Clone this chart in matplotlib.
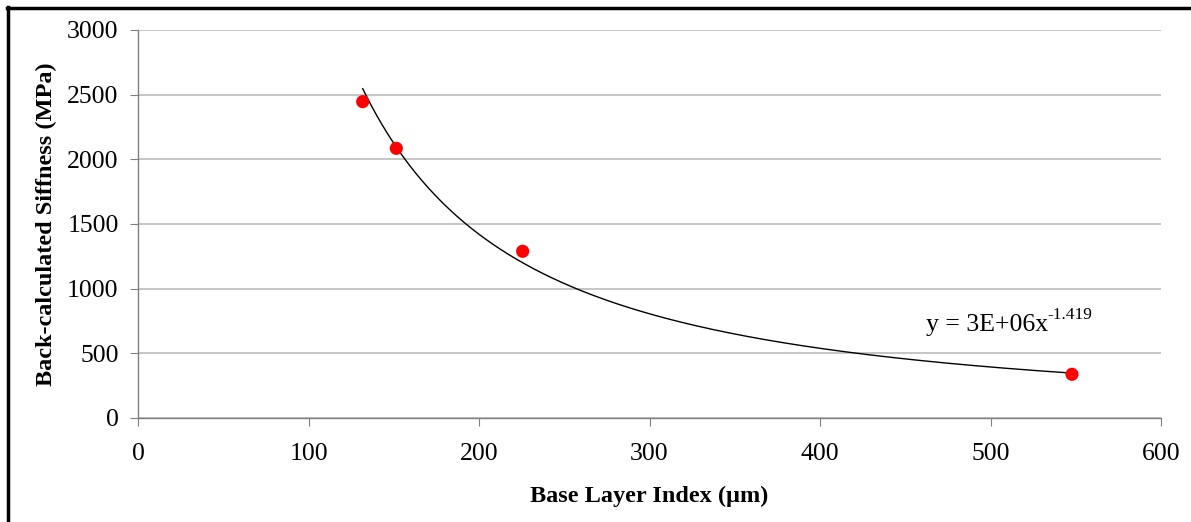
import numpy as np
import matplotlib
matplotlib.use('Agg')
import matplotlib.pyplot as plt
from matplotlib.lines import Line2D
from matplotlib.transforms import offset_copy

# data
base_index = [131.8, 151.5, 225.6, 547.8]
stiffness = [2446, 2085, 1289, 338]

x_ticks = [0, 100, 200, 300, 400, 500, 600]
y_ticks = [0, 500, 1000, 1500, 2000, 2500, 3000]

plt.rcParams['font.family'] = ['Liberation Serif', 'DejaVu Serif']

fig = plt.figure(figsize=(11.91, 5.22), dpi=100)
ax = fig.add_axes([138 / 1191, 1 - 418 / 522, 1023 / 1191, 388 / 522])

# power trendline fitted from the points (log-log regression)
b, ln_a = np.polyfit(np.log(base_index), np.log(stiffness), 1)
a = np.exp(ln_a)
xs = np.linspace(min(base_index), max(base_index), 300)
ax.plot(xs, a * xs ** b, color='black', lw=1.0, zorder=2)

ax.scatter(base_index, stiffness, s=90, color='#ff0000', edgecolors='none', zorder=3)

ax.set_xlim(0, 600)
ax.set_ylim(0, 3000)
ax.set_xticks(x_ticks)
ax.set_yticks(y_ticks)
ax.grid(axis='y', color='#c0c0c0', lw=1.3)
ax.set_axisbelow(True)

for side in ['top', 'right']:
    ax.spines[side].set_visible(False)
for side in ['left', 'bottom']:
    ax.spines[side].set_color('#808080')
    ax.spines[side].set_linewidth(1.0)

ax.tick_params(axis='both', labelsize=18.5, color='#808080', length=6, direction='out')
ax.tick_params(axis='x', pad=12)
ax.tick_params(axis='y', pad=8)

ax.set_xlabel('Base Layer Index (µm)', fontsize=17.5, fontweight='bold', labelpad=15)
ax.set_ylabel('Back-calculated Siffness (MPa)', fontsize=17.5, fontweight='bold', labelpad=7)

# trendline equation, superscript drawn as separate text so the hyphen stays a hyphen
eq_y = 672
eq = ax.text(462, eq_y, 'y = 3E+06x', fontsize=18.5, ha='left', va='baseline')
fig.canvas.draw()
bb = eq.get_window_extent()
x_end = ax.transData.inverted().transform((bb.x1, bb.y0))[0]
ax.text(x_end, eq_y, '-1.419', fontsize=12.5, ha='left', va='baseline',
        transform=offset_copy(ax.transData, fig=fig, x=0, y=9, units='points'))

# chart frame (only top and left edges visible in the crop)
fig.add_artist(Line2D([7 / 1191, 1], [1 - 8 / 522, 1 - 8 / 522], color='black', lw=2.5,
                      transform=fig.transFigure))
fig.add_artist(Line2D([8 / 1191, 8 / 1191], [0, 1 - 7 / 522], color='black', lw=2.5,
                      transform=fig.transFigure))

fig.savefig('out.png', dpi=100)
